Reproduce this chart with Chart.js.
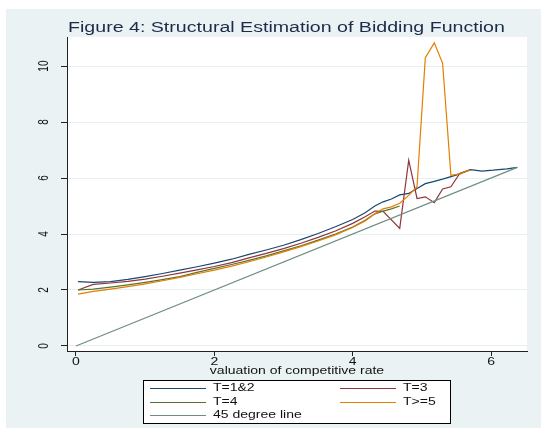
<!DOCTYPE html>
<html>
<head>
<meta charset="utf-8">
<script src="https://cdn.jsdelivr.net/npm/chart.js@4/dist/chart.umd.min.js"></script>
<style>
  html, body { margin: 0; padding: 0; background: #ffffff; }
  #wrap { width: 541px; height: 428px; position: relative; }
</style>
</head>
<body>
<div id="wrap"><canvas id="c" width="541" height="428"></canvas></div>
<script>
// ---- data ----
const titleText = "Figure 4: Structural Estimation of Bidding Function";
const xAxisTitle = "valuation of competitive rate";
const xTicks = [0, 2, 4, 6];
const yTicks = [0, 2, 4, 6, 8, 10];

const valuation = [0.03, 0.25, 0.5, 0.75, 1.0, 1.25, 1.5, 1.75, 2.0, 2.25, 2.5, 2.75, 3.0, 3.25, 3.5, 3.75, 4.0,
  4.18, 4.32, 4.44, 4.56, 4.68, 4.81, 4.93, 5.05, 5.18, 5.30, 5.42, 5.55, 5.70, 5.87, 6.03, 6.23, 6.38];

const bidT12 = [2.30, 2.27, 2.30, 2.38, 2.48, 2.59, 2.71, 2.83, 2.96, 3.10, 3.27, 3.43, 3.60, 3.80, 4.02, 4.26, 4.52,
  4.76, 5.00, 5.15, 5.25, 5.40, 5.45, 5.63, 5.80, 5.88, 5.96, 6.05, 6.15, 6.30, 6.25, 6.28, 6.33, 6.38];

const bidT3 = [2.00, 2.20, 2.25, 2.31, 2.39, 2.49, 2.60, 2.72, 2.84, 2.98, 3.15, 3.31, 3.48, 3.67, 3.88, 4.11, 4.38,
  4.62, 4.82, 4.81, null, 4.20, 6.64, 5.27, 5.33, 5.12, 5.61, 5.69, 6.17, 6.29, null, null, null, null];

const bidT4 = [2.00, 2.03, 2.10, 2.18, 2.27, 2.37, 2.48, 2.63, 2.77, 2.91, 3.06, 3.22, 3.40, 3.58, 3.78, 4.00, 4.25,
  4.49, 4.72, 4.82, 4.90, 5.00, null, null, null, null, null, null, null, null, null, null, null, null];

const bidT5 = [1.85, 1.95, 2.03, 2.12, 2.22, 2.33, 2.45, 2.58, 2.71, 2.85, 3.01, 3.18, 3.36, 3.55, 3.75, 3.97, 4.23,
  4.47, 4.72, 4.90, 4.97, 5.10, 5.38, 5.69, 10.30, 10.83, 10.10, 6.10, 6.15, 6.30, null, null, null, null];

const diagX = [0, 6.38];
const diagY = [0, 6.38];

const seriesNames = ["T=1&2", "T=3", "T=4", "T>=5", "45 degree line"];
const seriesColors = ["#1a476f", "#90353b", "#55752f", "#e37e00", "#6e8e84"];

// ---- helpers ----
const SX = 1.4; // the reference text is stretched horizontally
const FONT = '"Liberation Sans", Arial, Helvetica, sans-serif';
function sText(ctx, str, x, y, size, align, color, rotate) {
  ctx.save();
  ctx.font = size + 'px ' + FONT;
  ctx.fillStyle = color;
  ctx.textBaseline = 'middle';
  ctx.textAlign = align;
  ctx.translate(x, y);
  ctx.scale(SX, 1);
  if (rotate) ctx.rotate(-Math.PI / 2);
  ctx.fillText(str, 0, 0);
  ctx.restore();
}
function pts(xv, yv) { return xv.map((x, i) => ({ x: x, y: yv[i] })); }

const seriesData = [pts(valuation, bidT12), pts(valuation, bidT3), pts(valuation, bidT4), pts(valuation, bidT5), pts(diagX, diagY)];

const stataPlugin = {
  id: 'stata',
  beforeDraw(chart) {
    const ctx = chart.ctx, a = chart.chartArea;
    ctx.save();
    ctx.fillStyle = '#ffffff';
    ctx.fillRect(0, 0, chart.width, chart.height);
    ctx.fillStyle = '#eaf2f3';
    ctx.fillRect(6, 9, chart.width - 6, chart.height - 9);
    ctx.fillStyle = '#ffffff';
    ctx.fillRect(a.left, a.top, a.right - a.left, a.bottom - a.top);
    ctx.restore();
  },
  afterDraw(chart) {
    const ctx = chart.ctx, a = chart.chartArea;
    const xs = chart.scales.x, ys = chart.scales.y;
    // title
    sText(ctx, titleText, 68, 28, 14, 'left', '#1c2b4a', false);
    // tick labels
    xTicks.forEach(v => sText(ctx, String(v), xs.getPixelForValue(v), 362, 10, 'center', '#111', false));
    yTicks.forEach(v => sText(ctx, String(v), 44, ys.getPixelForValue(v), 10, 'center', '#111', true));
    // axis title
    sText(ctx, xAxisTitle, (a.left + a.right) / 2, 371, 10, 'center', '#111', false);
    // legend
    const bx = 143, by = 380, bw = 307, bh = 43;
    ctx.save();
    ctx.fillStyle = '#ffffff';
    ctx.fillRect(bx, by, bw, bh);
    ctx.strokeStyle = '#000';
    ctx.lineWidth = 1;
    ctx.strokeRect(bx + 0.5, by + 0.5, bw, bh);
    ctx.restore();
    const slots = [[150, 388], [340, 388], [150, 402], [340, 402], [150, 415]];
    chart.data.datasets.forEach((ds, i) => {
      const [lx, ly] = slots[i];
      ctx.save();
      ctx.strokeStyle = ds.borderColor;
      ctx.lineWidth = 1.2;
      ctx.beginPath();
      ctx.moveTo(lx, ly + 0.5);
      ctx.lineTo(lx + 56, ly + 0.5);
      ctx.stroke();
      ctx.restore();
      sText(ctx, ds.label, lx + 63, ly, 10, 'left', '#111', false);
    });
  }
};

new Chart(document.getElementById('c'), {
  type: 'line',
  data: {
    datasets: seriesNames.map((name, i) => ({
      label: name,
      data: seriesData[i],
      borderColor: seriesColors[i],
      backgroundColor: seriesColors[i],
      borderWidth: 1.2,
      pointRadius: 0,
      tension: 0,
      spanGaps: true,
      fill: false,
      order: 5 - i
    }))
  },
  options: {
    responsive: false,
    animation: false,
    devicePixelRatio: 1,
    layout: { padding: { left: 0, top: 37, right: 14, bottom: 0 } },
    plugins: { legend: { display: false }, title: { display: false }, tooltip: { enabled: false } },
    scales: {
      x: {
        type: 'linear',
        min: -0.13,
        max: 6.52,
        afterBuildTicks: s => { s.ticks = xTicks.map(v => ({ value: v })); },
        afterFit: s => { s.height = 77; },
        ticks: { display: false },
        grid: { display: true, drawOnChartArea: false, drawTicks: true, tickLength: 5, tickColor: '#222', tickWidth: 1 },
        border: { display: true, color: '#222', width: 1 }
      },
      y: {
        type: 'linear',
        min: -0.18,
        max: 11.04,
        afterBuildTicks: s => { s.ticks = yTicks.map(v => ({ value: v })); },
        afterFit: s => { s.width = 67; },
        ticks: { display: false },
        grid: { display: true, drawOnChartArea: true, color: '#e6eff1', lineWidth: 1, drawTicks: true, tickLength: 6, tickColor: '#222', tickWidth: 1 },
        border: { display: true, color: '#222', width: 1 }
      }
    }
  },
  plugins: [stataPlugin]
});
</script>
</body>
</html>
